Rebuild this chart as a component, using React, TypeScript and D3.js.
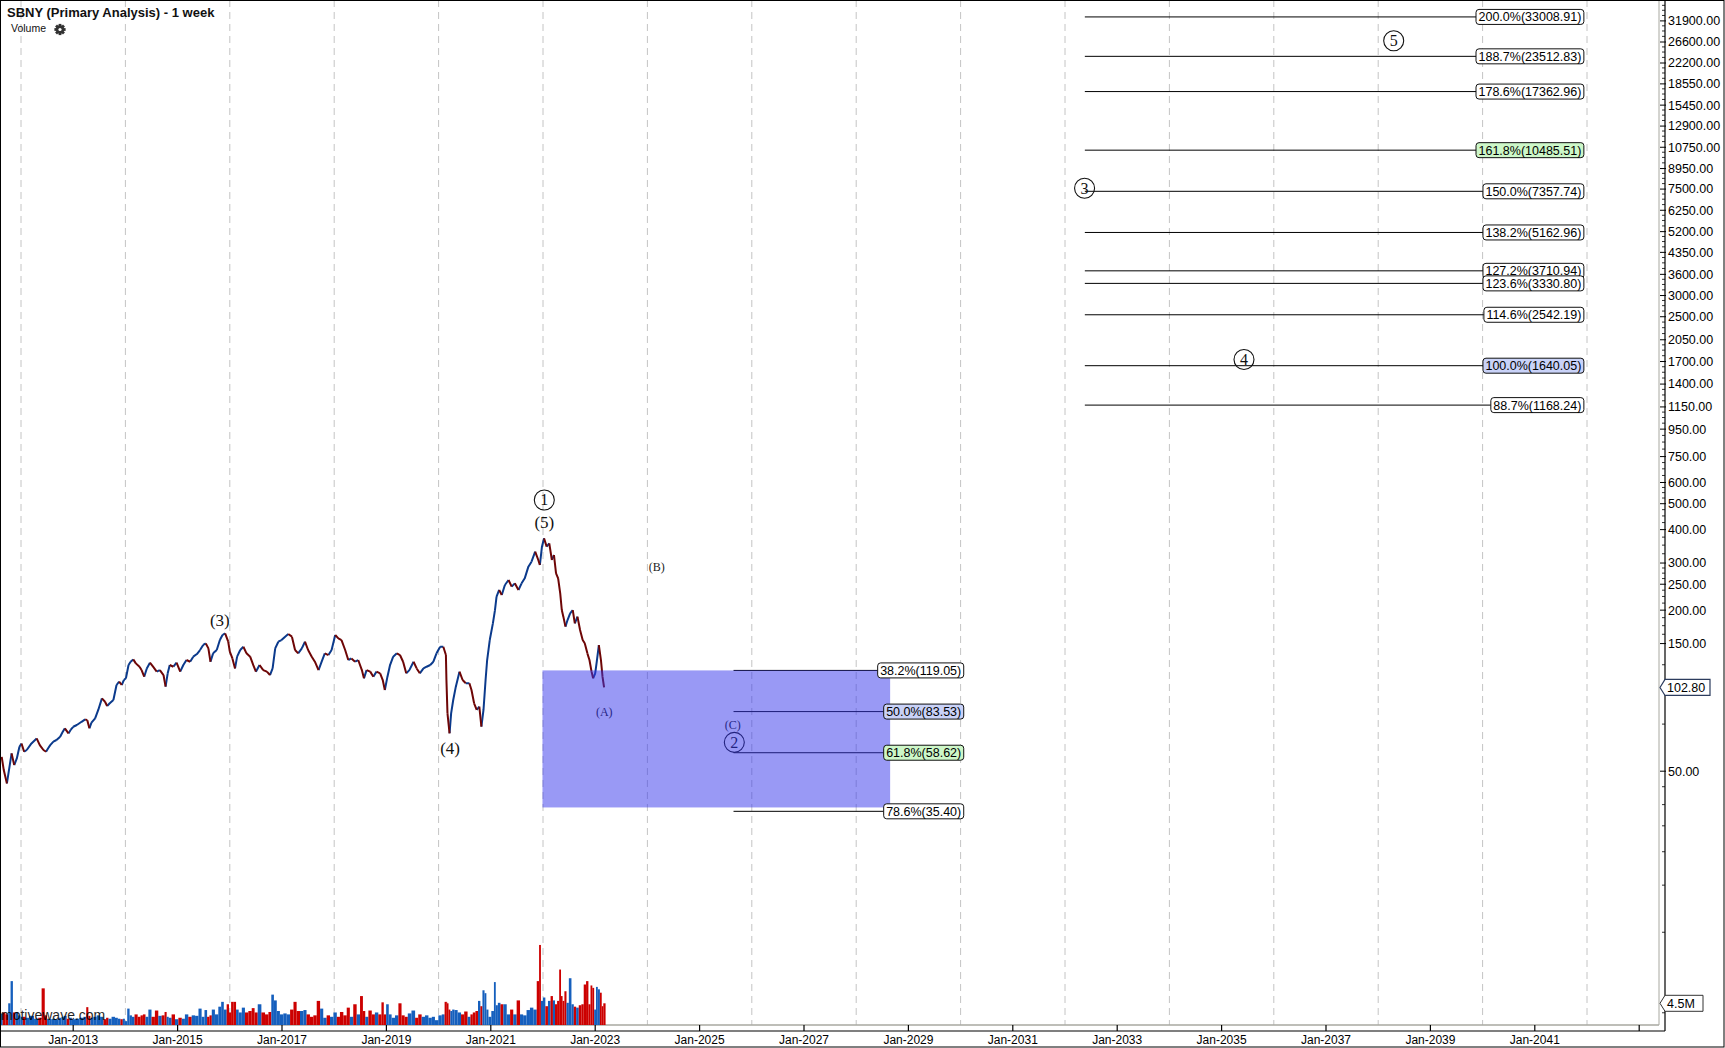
import React, { useMemo } from 'react';
import * as d3 from 'd3';

const W = 1725;
const H = 1048;

// weekly-ish closes (decimal years)
const priceDates = [
  2011.63, 2011.67, 2011.73, 2011.78, 2011.82, 2011.87, 2011.92, 2011.97, 2012.01, 2012.06,
  2012.11, 2012.20, 2012.30, 2012.36, 2012.43, 2012.48, 2012.52, 2012.56, 2012.62, 2012.68,
  2012.75, 2012.80, 2012.84, 2012.91, 2012.95, 2013.00, 2013.07, 2013.16, 2013.23, 2013.27,
  2013.31, 2013.35, 2013.42, 2013.48, 2013.55, 2013.61, 2013.65, 2013.70, 2013.77, 2013.83,
  2013.88, 2013.93, 2013.97, 2014.01, 2014.06, 2014.10, 2014.15, 2014.20, 2014.27, 2014.31,
  2014.36, 2014.41, 2014.47, 2014.53, 2014.60, 2014.66, 2014.73, 2014.77, 2014.81, 2014.85,
  2014.92, 2014.98, 2015.05, 2015.11, 2015.17, 2015.24, 2015.30, 2015.37, 2015.43, 2015.49,
  2015.54, 2015.59, 2015.63, 2015.68, 2015.75, 2015.81, 2015.86, 2015.91, 2015.97, 2016.00,
  2016.05, 2016.10, 2016.14, 2016.20, 2016.26, 2016.32, 2016.39, 2016.45, 2016.50, 2016.57,
  2016.64, 2016.71, 2016.77, 2016.82, 2016.87, 2016.93, 2016.99, 2017.06, 2017.12, 2017.19,
  2017.25, 2017.31, 2017.38, 2017.44, 2017.50, 2017.57, 2017.63, 2017.70, 2017.76, 2017.82,
  2017.89, 2017.95, 2018.02, 2018.08, 2018.14, 2018.21, 2018.27, 2018.33, 2018.40, 2018.46,
  2018.53, 2018.57, 2018.62, 2018.69, 2018.75, 2018.81, 2018.88, 2018.93, 2018.97, 2019.02,
  2019.07, 2019.13, 2019.20, 2019.26, 2019.32, 2019.38, 2019.44, 2019.52, 2019.58, 2019.64,
  2019.71, 2019.77, 2019.84, 2019.90, 2019.96, 2020.03, 2020.09, 2020.14, 2020.15, 2020.17,
  2020.21, 2020.24, 2020.28, 2020.33, 2020.40, 2020.46, 2020.52, 2020.59, 2020.63, 2020.68,
  2020.73, 2020.78, 2020.82, 2020.86, 2020.90, 2020.93, 2020.98, 2021.04, 2021.08, 2021.11,
  2021.16, 2021.21, 2021.27, 2021.34, 2021.40, 2021.46, 2021.53, 2021.59, 2021.65, 2021.72,
  2021.78, 2021.85, 2021.91, 2021.94, 2021.98, 2022.02, 2022.07, 2022.12, 2022.17, 2022.21,
  2022.25, 2022.29, 2022.33, 2022.36, 2022.39, 2022.43, 2022.47, 2022.52, 2022.57, 2022.61,
  2022.66, 2022.71, 2022.76, 2022.80, 2022.85, 2022.89, 2022.93, 2022.96, 2023.00, 2023.03,
  2023.07, 2023.11, 2023.14, 2023.17,
];

const priceCloses = [
  56.6, 50.5, 45, 52, 58.3, 52.7, 55.8, 61.7, 63.5, 59.1,
  60, 63.5, 66.3, 62.6, 60, 59.1, 60.9, 62.6, 64.5, 65.4,
  67.3, 70.2, 72.3, 69.2, 71.3, 73.3, 74.4, 76.5, 78.1, 77.6,
  72.3, 75.9, 78.8, 84.7, 93.6, 90.9, 87.6, 89.7, 92.3, 105,
  108.1, 105, 109.6, 111.2, 124.7, 128.3, 130.9, 126.5, 122.9, 119.4,
  112.8, 121.1, 127.2, 122.9, 117.8, 119.4, 114.4, 103.5, 116.1, 124.7,
  122.9, 127.2, 117.8, 124.7, 130.2, 128.3, 134, 137.1, 141.9, 148.2,
  150.2, 143.9, 128.3, 137.9, 141.9, 154.6, 161.5, 163.8, 152.4, 139.9,
  132, 121.1, 134, 141.9, 146, 137.9, 134, 124.7, 117.8, 124.7,
  119.4, 117.8, 114.4, 121.1, 143.9, 152.4, 154.6, 159.2, 162.8, 159.2,
  141.9, 137.9, 143.9, 152.4, 141.9, 134, 128.3, 119.4, 128.3, 137.9,
  135.9, 141.9, 161.5, 156.9, 154.6, 141.9, 130.2, 132, 128.3, 130.2,
  119.4, 111.2, 119.4, 117.8, 112.8, 117.8, 116.1, 109.6, 100.6, 112.8,
  124.7, 134, 137.9, 135.9, 128.3, 116.1, 119.4, 128.3, 121.1, 116.1,
  121.1, 122.9, 124.7, 128.3, 137.9, 146, 146, 135.9, 109.6, 82.3,
  69.3, 82.3, 92.3, 103.5, 117.8, 109.6, 106.6, 106.6, 100.6, 89.7,
  84.7, 87.1, 73.4, 84.7, 109.6, 130.2, 154.6, 178.5, 200.2, 224.6,
  237.9, 227.8, 248.3, 259.2, 244.8, 251.9, 237.9, 251.9, 263, 290.8,
  303.6, 330.9, 308, 295, 345.4, 371, 345.4, 355.4, 308, 321.5,
  274.5, 263, 231.1, 200.2, 189.1, 173.5, 183.7, 194.5, 200.2, 178.5,
  189.1, 168.5, 154.6, 150.3, 137.9, 130.2, 117.8, 111.2, 116.1, 128.4,
  148.1, 130.2, 112.8, 102.8,
];

// volume in millions of shares
const volumes = [
  2.4, 2.6, 2.2, 4.5, 9.1, 2.6, 2.7, 2.0, 1.7, 1.7,
  1.5, 1.9, 1.3, 1.5, 7.6, 2.0, 1.3, 1.2, 1.3, 1.2,
  1.5, 1.7, 1.9, 1.3, 1.5, 1.2, 1.3, 1.5, 1.7, 3.7,
  1.9, 1.5, 1.7, 2.0, 1.7, 1.2, 1.5, 1.3, 1.7, 1.5,
  1.3, 1.2, 1.3, 0.8, 3.4, 2.0, 1.7, 2.2, 1.7, 2.0,
  2.2, 1.7, 3.2, 1.7, 3.0, 1.9, 2.0, 2.7, 1.7, 1.5,
  2.2, 1.2, 1.5, 1.3, 2.2, 1.7, 2.0, 1.9, 3.4, 1.7,
  3.1, 1.7, 2.0, 3.2, 2.2, 3.8, 4.8, 3.2, 4.3, 2.6,
  4.8, 4.8, 3.2, 2.6, 3.6, 2.6, 2.9, 3.5, 2.6, 4.3,
  2.6, 2.2, 2.7, 6.3, 5.1, 2.9, 2.2, 2.4, 2.2, 3.2,
  4.8, 2.9, 2.9, 3.1, 2.2, 1.7, 2.0, 5.0, 3.4, 1.5,
  2.0, 1.7, 2.6, 1.7, 2.7, 2.0, 3.6, 1.7, 4.3, 2.2,
  6.0, 2.9, 1.7, 3.0, 2.2, 2.6, 2.2, 4.7, 2.2, 4.3,
  2.2, 1.5, 2.0, 4.5, 2.0, 1.7, 2.4, 3.0, 1.5, 2.2,
  1.7, 2.0, 1.5, 1.7, 1.0, 2.0, 2.2, 4.8, 4.8, 4.5,
  3.2, 2.9, 3.2, 3.1, 2.6, 2.2, 2.8, 1.7, 2.2, 2.6,
  2.9, 5.0, 3.9, 7.2, 6.6, 3.2, 1.7, 2.9, 8.9, 4.1,
  4.6, 4.3, 4.3, 2.2, 3.2, 2.2, 5.1, 2.2, 2.0, 3.1,
  3.6, 3.2, 9.1, 16.6, 5.0, 5.7, 3.9, 5.0, 6.0, 5.1,
  4.3, 5.0, 11.5, 6.0, 5.0, 7.0, 4.6, 9.7, 4.3, 3.8,
  3.6, 4.1, 4.3, 8.4, 9.1, 4.3, 8.2, 7.7, 3.2, 7.9,
  7.4, 6.7, 3.9, 4.5,
];

const priceTickValues = [
  31900, 26600, 22200, 18550, 15450, 12900, 10750, 8950, 7500, 6250, 5200, 4350, 3600, 3000,
  2500, 2050, 1700, 1400, 1150, 950, 750, 600, 500, 400, 300, 250, 200, 150, 50,
];
const yearTicks = [2013, 2015, 2017, 2019, 2021, 2023, 2025, 2027, 2029, 2031, 2033, 2035, 2037, 2039, 2041, 2043];
const gridYears = [2012, 2014, 2016, 2018, 2020, 2022, 2024, 2026, 2028, 2030, 2032, 2034, 2036, 2038, 2040, 2042];

const lowerFibLevels = ['38.2%', '50.0%', '61.8%', '78.6%'];
const lowerFibValues = [119.05, 83.53, 58.62, 35.4];
const lowerFibFills = ['#ffffff', '#c9d2f8', '#cdf7c8', '#ffffff'];

const upperFibLevels = ['200.0%', '188.7%', '178.6%', '161.8%', '150.0%', '138.2%', '127.2%', '123.6%', '114.6%', '100.0%', '88.7%'];
const upperFibValues = [33008.91, 23512.83, 17362.96, 10485.51, 7357.74, 5162.96, 3710.94, 3330.8, 2542.19, 1640.05, 1168.24];
const upperFibFills = ['#ffffff', '#ffffff', '#ffffff', '#cdf7c8', '#ffffff', '#ffffff', '#ffffff', '#ffffff', '#ffffff', '#c9d2f8', '#ffffff'];

const zoneDates = [2021.99, 2028.65];
const zonePrices = [36.6, 119.05];
const lowerFibSpan = [2025.65, 2030.06];
const upperFibSpan = [2032.38, 2041.94];

const lastPrice = 102.8;
const lastVolume = 4.5;

// wave labels: text, date, price, font size
const waveLabels = [
  { text: '(3)', t: 2015.81, p: 183.8, size: 17, color: '#111' },
  { text: '(4)', t: 2020.22, p: 61.1, size: 17, color: '#111' },
  { text: '(5)', t: 2022.025, p: 428.1, size: 17, color: '#111' },
  { text: '(B)', t: 2024.18, p: 290.6, size: 12, color: '#222' },
  { text: '(A)', t: 2023.174, p: 83.4, size: 12, color: '#111' },
  { text: '(C)', t: 2025.634, p: 74.4, size: 12, color: '#111' },
];
const circledLabels = [
  { text: '1', t: 2022.025, p: 516.2 },
  { text: '2', t: 2025.665, p: 64.1 },
  { text: '3', t: 2032.375, p: 7551 },
  { text: '4', t: 2035.429, p: 1730 },
  { text: '5', t: 2038.297, p: 26900 },
];

const SANS = "'Liberation Sans', Arial, Helvetica, sans-serif";
const SERIF = "'Liberation Serif', 'Times New Roman', serif";

const UP_LINE = '#0b3a8c';
const DOWN_LINE = '#6e0606';
const UP_VOL = '#155fbd';
const DOWN_VOL = '#cc0000';

const BOX_FONT = 12.5;

export default function App() {
  const x = d3.scaleLinear().domain([2012, 2042]).range([21, 1587]);
  const y = d3.scaleLog().domain([50, 31900]).range([771.2, 20.9]);
  const yv = d3.scaleLinear().domain([0, 4.5]).range([1025, 1003.3]);

  const measure = useMemo(() => {
    const c = document.createElement('canvas').getContext('2d')!;
    c.font = `${BOX_FONT}px ${SANS}`;
    return (s: string) => c.measureText(s).width;
  }, []);

  const n = priceDates.length;
  let upPath = '';
  let downPath = '';
  for (let i = 1; i < n; i++) {
    const seg = `M${x(priceDates[i - 1])},${y(priceCloses[i - 1])}L${x(priceDates[i])},${y(priceCloses[i])}`;
    if (priceCloses[i] >= priceCloses[i - 1]) upPath += seg;
    else downPath += seg;
  }

  const volBars = priceDates.map((t, i) => {
    const xc = x(t);
    const xl = i > 0 ? (x(priceDates[i - 1]) + xc) / 2 : xc - 1.5;
    const xr = i < n - 1 ? (x(priceDates[i + 1]) + xc) / 2 : xc + 1.5;
    const up = i === 0 ? true : priceCloses[i] >= priceCloses[i - 1];
    return (
      <rect key={i} x={xl} width={Math.max(1, xr - xl)} y={yv(volumes[i])} height={yv(0) - yv(volumes[i])} fill={up ? UP_VOL : DOWN_VOL} />
    );
  });

  // minor ticks for the price axis
  const minorTicks: number[] = [];
  const majors = [38000, ...priceTickValues];
  for (let i = 0; i < majors.length - 1; i++) {
    const a = majors[i], b = majors[i + 1];
    for (let k = 1; k < 4; k++) minorTicks.push(a + ((b - a) * k) / 4);
  }
  for (let v = 43.75; v > 5; v -= 6.25) minorTicks.push(v);

  const boxGeom = (label: string, value: number, right: number) => {
    const text = `${label}(${value.toFixed(2)})`;
    const w = measure(text) + 5;
    return { text, w, bx: right - w, yy: y(value) };
  };

  const fibLine = (label: string, value: number, right: number, start: number, key: string) => {
    const g = boxGeom(label, value, right);
    return <line key={key} x1={x(start)} x2={g.bx} y1={g.yy} y2={g.yy} stroke="#000" strokeWidth={1} />;
  };

  const fibBox = (label: string, value: number, fill: string, right: number, key: string) => {
    const g = boxGeom(label, value, right);
    return (
      <g key={key}>
        <rect x={g.bx} y={g.yy - 7.5} width={g.w} height={15} rx={3} ry={3} fill={fill} stroke="#111" strokeWidth={1} />
        <text x={g.bx + 2.5} y={g.yy + 4.4} fontSize={BOX_FONT} fontFamily={SANS} fill="#000">{g.text}</text>
      </g>
    );
  };

  const lowerRight = x(lowerFibSpan[1]);
  const upperRight = x(upperFibSpan[1]);

  const circled = (c: { text: string; t: number; p: number }, i: number) => {
    const cx = x(c.t), cy = y(c.p);
    return (
      <g key={'c' + i}>
        <circle cx={cx} cy={cy} r={10} fill="none" stroke="#111" strokeWidth={1.1} />
        <text x={cx} y={cy + 5.5} textAnchor="middle" fontSize={16} fontFamily={SERIF} fill="#111">{c.text}</text>
      </g>
    );
  };

  const underZone = new Set(['(A)', '(C)']);
  const axisX = 1665;
  const axisY = 1031;
  const plotBottom = 1025;
  const plotRight = 1659;

  const tagPriceY = y(lastPrice);
  const tagVolY = yv(lastVolume);

  const gearTeeth = [0, 45, 90, 135];

  return (
    <div>
      <style>{'body{margin:0;background:#fff}'}</style>
      <svg width={W} height={H} style={{ display: 'block' }}>
        <rect x={0} y={0} width={W} height={H} fill="#fff" />
        {/* gridlines */}
        {gridYears.map((g) => (
          <line key={g} x1={x(g)} x2={x(g)} y1={0} y2={plotBottom} stroke="#c4c4c4" strokeWidth={1} strokeDasharray="7,5" />
        ))}
        {/* plot border */}
        <line x1={plotRight} x2={plotRight} y1={0} y2={plotBottom} stroke="#a8a8a0" strokeWidth={1} />
        <line x1={0} x2={plotRight} y1={plotBottom} y2={plotBottom} stroke="#a8a8a0" strokeWidth={1.5} />

        {/* volume */}
        <g>{volBars}</g>
        <text x={1} y={1020} fontSize={14} fontFamily={SANS} fill="#000" opacity={0.85}>motivewave.com</text>

        {/* price */}
        <path d={upPath} stroke={UP_LINE} strokeWidth={2} fill="none" />
        <path d={downPath} stroke={DOWN_LINE} strokeWidth={2} fill="none" />

        {/* lower fib lines (under zone) */}
        {lowerFibLevels.map((l, i) => fibLine(l, lowerFibValues[i], lowerRight, lowerFibSpan[0], 'll' + i))}

        {/* labels under zone */}
        {waveLabels.filter((w) => underZone.has(w.text)).map((w, i) => (
          <text key={'wz' + i} x={x(w.t)} y={y(w.p) + w.size * 0.35} textAnchor="middle" fontSize={w.size} fontFamily={SERIF} fill={w.color}>{w.text}</text>
        ))}
        {circled(circledLabels[1], 1)}

        {/* retracement zone */}
        <rect
          x={x(zoneDates[0])}
          width={x(zoneDates[1]) - x(zoneDates[0])}
          y={y(zonePrices[1])}
          height={y(zonePrices[0]) - y(zonePrices[1])}
          fill="rgb(51,51,235)"
          fillOpacity={0.5}
        />

        {/* lower fib boxes */}
        {lowerFibLevels.map((l, i) => fibBox(l, lowerFibValues[i], lowerFibFills[i], lowerRight, 'lb' + i))}

        {/* upper fib */}
        {upperFibLevels.map((l, i) => fibLine(l, upperFibValues[i], upperRight, upperFibSpan[0], 'ul' + i))}
        {upperFibLevels.map((l, i) => fibBox(l, upperFibValues[i], upperFibFills[i], upperRight, 'ub' + i))}

        {/* wave labels */}
        {waveLabels.filter((w) => !underZone.has(w.text)).map((w, i) => (
          <text key={'w' + i} x={x(w.t)} y={y(w.p) + w.size * 0.35} textAnchor="middle" fontSize={w.size} fontFamily={SERIF} fill={w.color}>{w.text}</text>
        ))}
        {circledLabels.map((c, i) => (i === 1 ? null : circled(c, i)))}

        {/* price axis */}
        <line x1={axisX} x2={axisX} y1={0} y2={axisY} stroke="#000" strokeWidth={1.2} />
        {minorTicks.map((v, i) => (
          <line key={'m' + i} x1={axisX - 3} x2={axisX} y1={y(v)} y2={y(v)} stroke="#000" strokeWidth={0.8} />
        ))}
        {priceTickValues.map((v) => (
          <g key={'pt' + v}>
            <line x1={axisX - 5} x2={axisX + 1} y1={y(v)} y2={y(v)} stroke="#000" strokeWidth={1} />
            <text x={axisX + 3} y={y(v) + 4.4} fontSize={12.5} fontFamily={SANS} fill="#000">{v.toFixed(2)}</text>
          </g>
        ))}

        {/* time axis */}
        <line x1={0} x2={axisX} y1={axisY} y2={axisY} stroke="#000" strokeWidth={1.2} />
        {yearTicks.map((t) => (
          <g key={'yt' + t}>
            <line x1={x(t)} x2={x(t)} y1={plotBottom} y2={axisY} stroke="#000" strokeWidth={1.2} />
            {t < 2042 && (
              <text x={x(t)} y={axisY + 13} textAnchor="middle" fontSize={12} fontFamily={SANS} fill="#000">{`Jan-${t}`}</text>
            )}
          </g>
        ))}

        {/* last price tag */}
        <path
          d={`M${axisX - 5},${tagPriceY}L${axisX},${tagPriceY - 8}L${axisX + 45},${tagPriceY - 8}L${axisX + 45},${tagPriceY + 8}L${axisX},${tagPriceY + 8}Z`}
          fill="#fff"
          stroke="#2c3c5e"
          strokeWidth={1.2}
        />
        <text x={axisX + 2} y={tagPriceY + 4.4} fontSize={12.5} fontFamily={SANS} fill="#000">{lastPrice.toFixed(2)}</text>

        {/* last volume tag */}
        <path
          d={`M${axisX - 5},${tagVolY}L${axisX},${tagVolY - 8}L${axisX + 38},${tagVolY - 8}L${axisX + 38},${tagVolY + 8}L${axisX},${tagVolY + 8}Z`}
          fill="#fff"
          stroke="#333"
          strokeWidth={1}
        />
        <text x={axisX + 2} y={tagVolY + 4.4} fontSize={12.5} fontFamily={SANS} fill="#000">{`${lastVolume}M`}</text>

        {/* title */}
        <text x={7} y={17} fontSize={13} fontWeight="bold" fontFamily={SANS} fill="#111">SBNY (Primary Analysis) - 1 week</text>
        <text x={11} y={32} fontSize={10.5} fontFamily={SANS} fill="#111">Volume</text>
        <g transform="translate(60,29.5)">
          {gearTeeth.map((a) => (
            <rect key={a} x={-1.4} y={-5.6} width={2.8} height={11.2} fill="#333" transform={`rotate(${a})`} />
          ))}
          <circle r={4.2} fill="#333" />
          <circle r={1.6} fill="#fff" />
        </g>

        {/* outer frame */}
        <rect x={0.5} y={0.5} width={W - 1.5} height={H - 1.5} fill="none" stroke="#000" strokeWidth={1} />
      </svg>
    </div>
  );
}
